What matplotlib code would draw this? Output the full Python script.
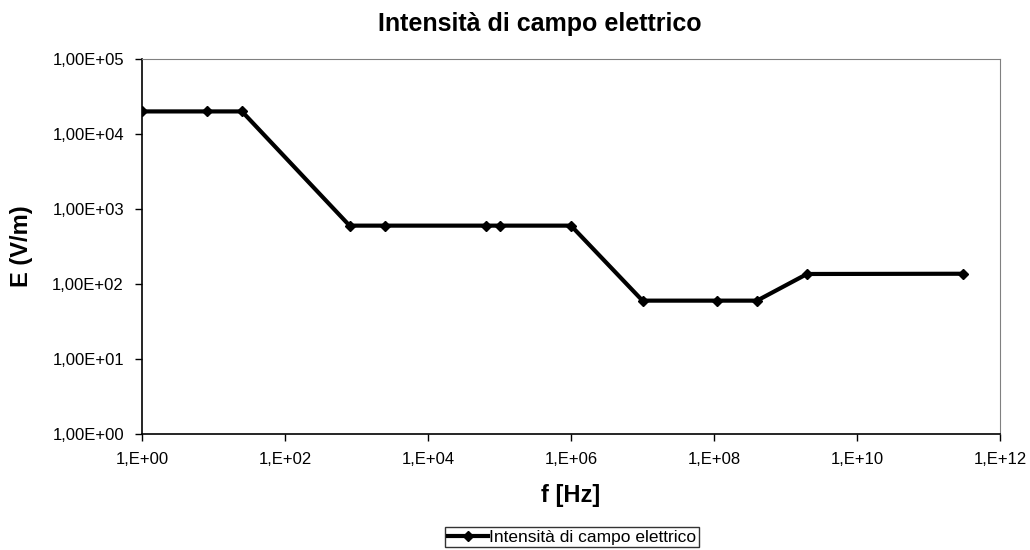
import math
import matplotlib.pyplot as plt
from matplotlib.ticker import FixedLocator, NullLocator, FuncFormatter

plt.rcParams['font.family'] = ['Liberation Sans', 'DejaVu Sans']

# Dati
freq = [1, 8, 25, 800, 2500, 65000, 1e5, 1e6, 1e7, 1.1e8, 4e8, 2e9, 3e11]
campo = [20000, 20000, 20000, 600, 600, 600, 600, 600, 60, 60, 60, 136, 137]

fig = plt.figure(figsize=(10.3, 5.5), dpi=100)
ax = fig.add_axes([142 / 1030, 1 - 434 / 550, 858 / 1030, 375 / 550])

ax.plot(freq, campo, color='black', linewidth=3, marker='D', markersize=5,
        label='Intensità di campo elettrico')

ax.set_xscale('log')
ax.set_yscale('log')
ax.set_xlim(1, 1e12)
ax.set_ylim(1, 1e5)

ax.xaxis.set_major_locator(FixedLocator([10 ** k for k in range(0, 13, 2)]))
ax.yaxis.set_major_locator(FixedLocator([10 ** k for k in range(0, 6)]))
ax.xaxis.set_minor_locator(NullLocator())
ax.yaxis.set_minor_locator(NullLocator())
ax.xaxis.set_major_formatter(FuncFormatter(lambda v, p: '1,E+%02d' % round(math.log10(v))))
ax.yaxis.set_major_formatter(FuncFormatter(lambda v, p: '1,00E+%02d' % round(math.log10(v))))
ax.tick_params(direction='out', length=5, width=1, labelsize=12, pad=8)

for s in ['top', 'right']:
    ax.spines[s].set_color('#808080')
for s in ['left', 'bottom']:
    ax.spines[s].set_color('black')
    ax.spines[s].set_linewidth(1.2)

fig.text(540 / 1030, 1 - 24 / 550, 'Intensità di campo elettrico', fontsize=18,
         fontweight='bold', ha='center', va='center')
ax.set_xlabel('f [Hz]', fontsize=17, fontweight='bold', labelpad=12)
ax.set_ylabel('E (V/m)', fontsize=17, fontweight='bold', labelpad=14)

leg = ax.legend(loc='upper center', bbox_to_anchor=(572 / 1030, 1 - 527 / 550),
                bbox_transform=fig.transFigure, fontsize=12.5, frameon=True,
                fancybox=False, edgecolor='black', handlelength=2.3,
                handletextpad=0.05, borderpad=0.15, borderaxespad=0)
leg.get_frame().set_linewidth(1)

fig.savefig('out.png', dpi=100)
